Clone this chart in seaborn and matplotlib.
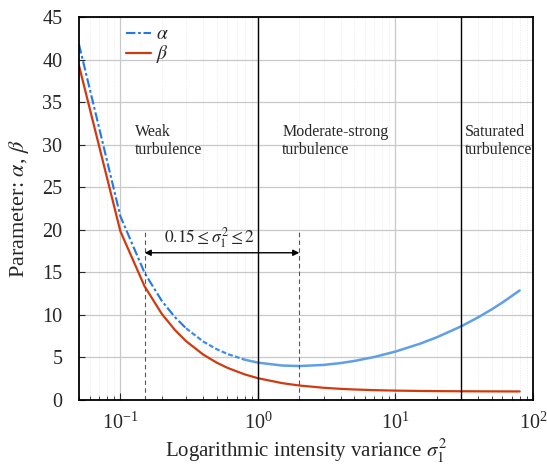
import numpy as np
import pandas as pd
import matplotlib
matplotlib.use("Agg")
import matplotlib.pyplot as plt
import seaborn as sns

# data
sigma2 = [0.05, 0.1, 0.15, 0.2, 0.25, 0.3, 0.4, 0.5, 0.6, 0.8, 1.0, 1.5, 2, 3, 4, 5, 7,
          10, 15, 20, 30, 40, 50, 60, 80]
alpha = [41.8, 21.59, 14.93, 11.65, 9.71, 8.43, 6.87, 5.98, 5.41, 4.74, 4.39, 4.05, 3.99,
         4.12, 4.34, 4.58, 5.05, 5.69, 6.60, 7.37, 8.65, 9.72, 10.64, 11.46, 12.87]
beta = [39.3, 19.82, 13.35, 10.12, 8.20, 6.92, 5.34, 4.40, 3.78, 3.01, 2.56, 1.98, 1.70,
        1.435, 1.309, 1.236, 1.157, 1.102, 1.061, 1.042, 1.025, 1.017, 1.012, 1.009, 1.003]
regime_bounds = [1, 30]
range_marks = [0.15, 2]
regime_labels = ["Weak\nturbulence", "Moderate-strong\nturbulence", "Saturated\nturbulence"]
regime_label_x = [0.128, 1.5, 32]
yticks = [0, 5, 10, 15, 20, 25, 30, 35, 40, 45]

df = pd.DataFrame({"s": sigma2, "alpha": alpha, "beta": beta})
df_a1 = df[df["s"] <= 0.3]
df_a2 = df[(df["s"] >= 0.3) & (df["s"] <= 0.8)]
df_a3 = df[df["s"] >= 0.8]

sns.set_style("ticks")
plt.rcParams["font.family"] = ["Liberation Serif", "DejaVu Serif"]
plt.rcParams["mathtext.fontset"] = "stix"

fig = plt.figure(figsize=(5.47, 4.67), dpi=100)
ax = fig.add_axes([0.1444, 0.1435, 0.83, 0.82])

blue1 = "#2277ea"
blue2 = "#3f8cec"
blue3 = "#5e9fe8"
red = "#d13a0e"

sns.lineplot(data=df_a1, x="s", y="alpha", ax=ax, color=blue1, lw=1.5,
             label=r"$\alpha$")
ax.lines[-1].set_dashes((4.5, 1.3, 1.3, 1.3))
sns.lineplot(data=df_a2, x="s", y="alpha", ax=ax, color=blue2, lw=1.6,
             label="_nolegend_")
ax.lines[-1].set_dashes((2.2, 1.0))
sns.lineplot(data=df_a3, x="s", y="alpha", ax=ax, color=blue3, lw=1.8,
             label="_nolegend_")
sns.lineplot(data=df, x="s", y="beta", ax=ax, color=red, lw=1.6, label=r"$\beta$")

ax.set_xscale("log")
ax.set_xlim(0.05, 100)
ax.set_ylim(0, 45)
ax.set_yticks(yticks)

ax.grid(True, which="major", color="#c8c8c8", lw=0.9)
ax.grid(True, which="minor", axis="x", color="#e4e4e4", lw=0.5, ls=(0, (1.5, 2)))
ax.set_axisbelow(True)

for xb in regime_bounds:
    ax.axvline(xb, color="black", lw=1.0)
for xm in range_marks:
    ax.plot([xm, xm], [0, 19.7], color="#555555", lw=0.8, ls=(0, (4, 3)))

ax.annotate("", xy=(range_marks[0], 17.3), xytext=(range_marks[1], 17.3),
            arrowprops=dict(arrowstyle="<|-|>", color="black", lw=1.0,
                            mutation_scale=9, shrinkA=0, shrinkB=0))
ax.text(0.445, 17.6, r"$0.15\leq\sigma_1^2\leq2$", ha="center", va="bottom", fontsize=12.5)

for lab, xl in zip(regime_labels, regime_label_x):
    ax.text(xl, 32.4, lab, ha="left", va="top", fontsize=11.5, linespacing=1.15)

ax.tick_params(axis="both", which="both", direction="in", labelsize=14.5)
ax.tick_params(axis="x", which="major", length=5, pad=9)
ax.tick_params(axis="x", which="minor", length=3)
ax.tick_params(axis="y", length=4, pad=12)
for sp in ax.spines.values():
    sp.set_linewidth(1.3)
    sp.set_color("black")

ax.set_xlabel(r"Logarithmic intensity variance $\sigma_1^2$", fontsize=15, labelpad=3)
ax.set_ylabel(r"Parameter: $\alpha$, $\beta$", fontsize=16, labelpad=8)

leg = ax.legend(loc="upper left", bbox_to_anchor=(0.104, 0.977), frameon=False,
                fontsize=14, handlelength=1.3, handletextpad=0.25, labelspacing=0.0,
                borderaxespad=0.0, borderpad=0.0)

fig.savefig("out.png", dpi=100)
